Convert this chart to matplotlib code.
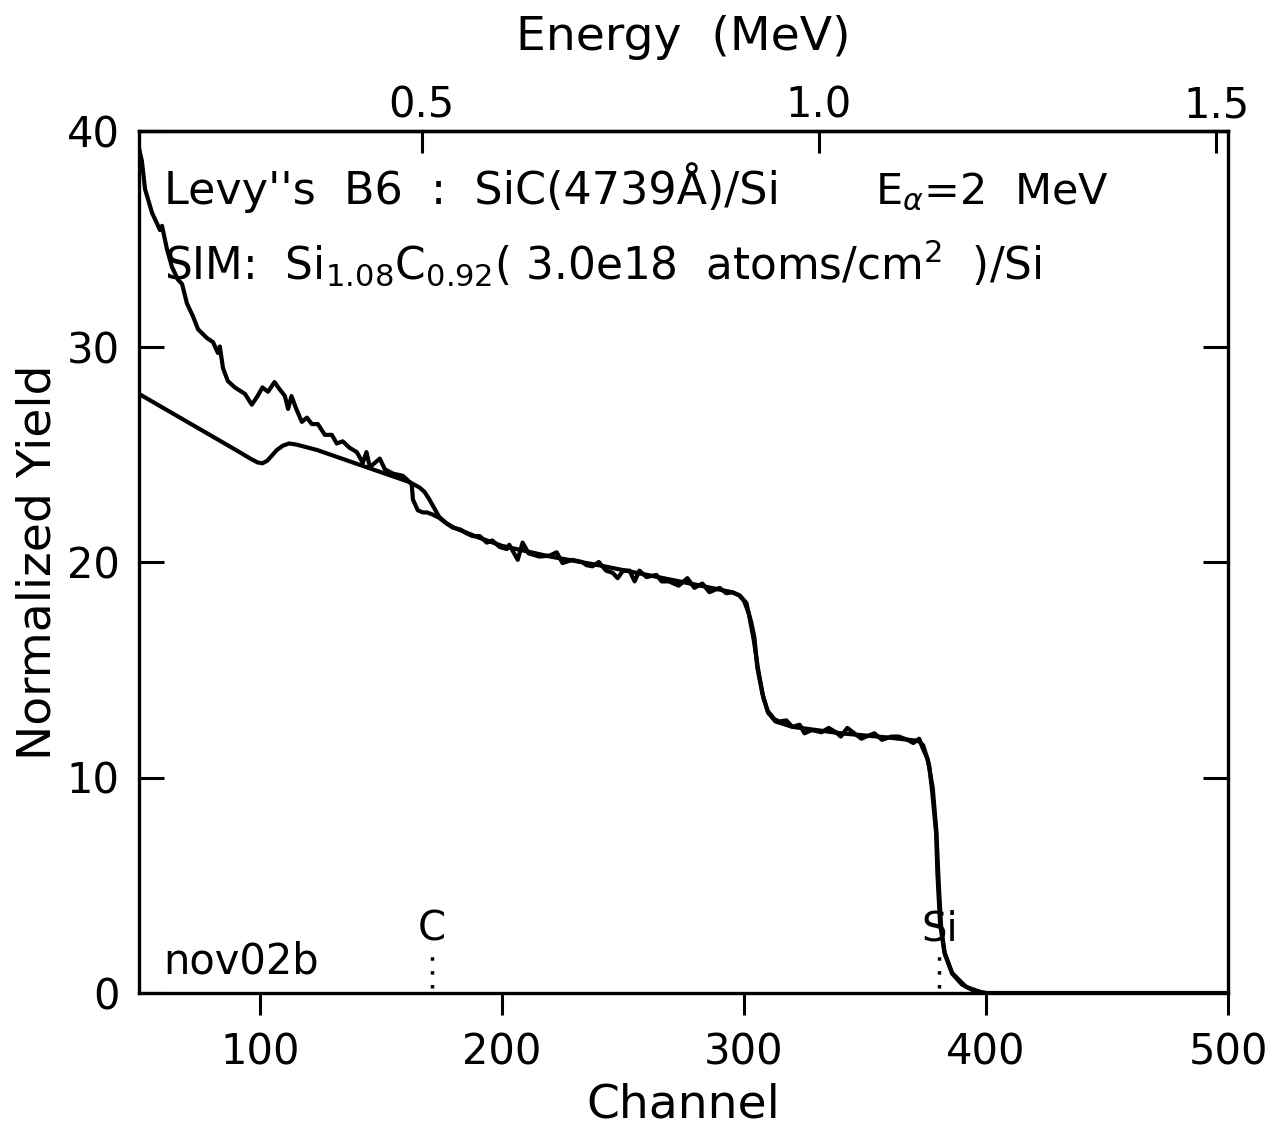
import matplotlib
matplotlib.use("Agg")
import matplotlib.pyplot as plt
import numpy as np

# ---------------- data ----------------
exp_ch = [50, 51.2, 52.5, 55.4, 58.7, 59.5, 61.6, 63.6, 66.1, 67.8, 69.8, 72.3, 74.4, 78, 80.6,
          82.6, 83.4, 84.7, 86.7, 89.6, 93.8, 96.6, 99, 101, 103.3, 106, 108.2, 110.3, 111.6,
          113, 115, 117.3, 119.4, 121.4, 123.9, 126.8, 129.7, 131.7, 134.2, 137, 140, 142.5,
          144, 145.4, 149.5, 151.6, 155, 159, 161, 162.7, 163.2, 165.2, 167.3, 169, 171.4, 174,
          177, 179.6, 183, 185, 187.9, 190.8, 193.7, 196, 199, 202, 203, 205, 206.5, 208.5, 211,
          215.5, 219.7, 222.6, 225, 229, 233, 235, 237.4, 240, 243, 245.7, 247.8, 250, 252.7,
          254.8, 256.8, 259.7, 263.8, 266, 269, 273, 276.6, 279.5, 282.8, 285.7, 289.9, 292.7,
          295.2, 298.2, 301, 302, 303, 304.3, 305.5, 307.6, 309.7, 312.6, 314.6, 317.5, 320,
          323, 325, 328, 332, 335, 338, 340, 342.7, 345.6, 348.5, 350.5, 353.9, 357, 361, 364,
          367.5, 370, 372.4, 373.7, 375.7, 376.6, 377.8, 379.4, 379.9, 381, 382.8, 386, 391.8,
          398.5, 400, 500]
exp_y = [39.2, 38.6, 37.3, 36.2, 35.4, 35.6, 34.5, 33.7, 33.1, 32.9, 32.0, 31.4, 30.8, 30.4, 30.2,
         29.7, 30.0, 29.0, 28.4, 28.1, 27.8, 27.3, 27.7, 28.1, 27.9, 28.35, 28.0, 27.7, 27.1,
         27.7, 27.1, 26.5, 26.7, 26.4, 26.4, 25.9, 25.9, 25.5, 25.6, 25.3, 25.1, 24.6,
         25.1, 24.4, 24.8, 24.3, 24.1, 24.0, 23.8, 23.6, 22.9, 22.4, 22.3, 22.3, 22.2, 22.05,
         21.8, 21.6, 21.5, 21.35, 21.2, 21.2, 20.9, 21.0, 20.7, 20.6, 20.8, 20.4, 20.1, 20.9, 20.4,
         20.25, 20.3, 20.45, 19.95, 20.1, 20.0, 19.85, 19.8, 20.0, 19.6, 19.5, 19.25, 19.6, 19.6,
         19.1, 19.6, 19.3, 19.4, 19.1, 19.1, 18.9, 19.25, 18.8, 19.0, 18.6, 18.8, 18.55,
         18.6, 18.45, 18.1, 17.6, 17.2, 16.5, 15.1, 13.9, 13.1, 12.7, 12.6, 12.65, 12.35,
         12.45, 12.05, 12.2, 12.1, 12.3, 12.1, 11.9, 12.3, 12.05, 11.8, 11.9, 12.05, 11.75, 11.9, 11.9,
         11.75, 11.6, 11.8, 11.4, 10.9, 10.5, 9.3, 7.4, 5.6, 3.25, 1.9, 0.93, 0.28,
         0.02, 0.0, 0.0]

sim_ch = [50, 60, 70, 80, 90, 96, 99, 101, 103, 105, 107, 109.5, 112, 115, 123.5, 144, 162,
          166, 168, 170, 172, 174, 177, 180, 190, 200, 220, 240, 260, 280, 295, 298, 300, 302,
          304, 306, 308, 310, 313, 320, 340, 360, 372, 374, 376, 378, 379.5, 380.5, 381.5, 383,
          386, 390, 395, 400]
sim_y = [27.8, 27.15, 26.5, 25.85, 25.2, 24.8, 24.62, 24.58, 24.7, 24.95, 25.2, 25.4, 25.5, 25.45,
         25.2, 24.4, 23.7, 23.45, 23.25, 22.9, 22.5, 22.1, 21.8, 21.6, 21.15, 20.75, 20.25, 19.85,
         19.4, 18.95, 18.6, 18.45, 18.2, 17.6, 16.4, 14.9, 13.7, 13.0, 12.6, 12.35, 12.05, 11.85,
         11.7, 11.5, 10.8, 9.5, 7.5, 5.0, 3.0, 1.8, 0.9, 0.4, 0.1, 0.0]

x_ticks = [100, 200, 300, 400, 500]
y_ticks = [0, 10, 20, 30, 40]
e_ticks = [0.5, 1.0, 1.5]
edge_labels = ["C", "Si"]
edge_ch = [171, 380.7]

E_SLOPE = 0.003045
E_OFF = -0.0079

def ch2e(c):
    return np.asarray(c) * E_SLOPE + E_OFF

def e2ch(e):
    return (np.asarray(e) - E_OFF) / E_SLOPE

# ---------------- figure ----------------
plt.rcParams['font.family'] = ['DejaVu Sans']
plt.rcParams['mathtext.fontset'] = 'dejavusans'

fig = plt.figure(figsize=(12.74, 11.31), dpi=100)
ax = fig.add_axes([139/1274, 1 - 993/1131, (1228-139)/1274, (993-131)/1131])

ax.plot(exp_ch, exp_y, color='black', lw=3.0, solid_joinstyle='round')
ax.plot(sim_ch, sim_y, color='black', lw=3.0, solid_joinstyle='round')

ax.set_xlim(50, 500)
ax.set_ylim(0, 40)

for s in ax.spines.values():
    s.set_linewidth(2.4)

ax.set_xticks(x_ticks)
ax.set_yticks(y_ticks)
ax.tick_params(axis='x', direction='out', length=16, width=2.2, labelsize=30, pad=12)
ax.tick_params(axis='y', direction='in', length=18, width=2.2, labelsize=30, pad=14,
               right=True)
ax.set_xlabel("Channel", fontsize=34, labelpad=6)
ax.set_ylabel("Normalized Yield", fontsize=34, labelpad=4)

sec = ax.secondary_xaxis('top', functions=(ch2e, e2ch))
sec.set_xticks(e_ticks)
sec.set_xticklabels(["0.5", "1.0", "1.5"])
sec.tick_params(axis='x', direction='in', length=16, width=2.2, labelsize=30, pad=3)
sec.set_xlabel("Energy  (MeV)", fontsize=34, labelpad=25)
sec.spines['top'].set_linewidth(2.4)

# annotations
ax.text(60.5, 36.6, "Levy''s  B6  :  SiC(4739Å)/Si", fontsize=32, ha='left', va='baseline')
ax.text(354, 36.6, r"E$_{\alpha}$=2  MeV", fontsize=31, ha='left', va='baseline')
ax.text(60.5, 33.1, r"SIM:  Si$_{1.08}$C$_{0.92}$( 3.0e18  atoms/cm$^{2}$  )/Si",
        fontsize=31.5, ha='left', va='baseline')
ax.text(60, 0.9, "nov02b", fontsize=30, ha='left', va='baseline')

for lab, c in zip(edge_labels, edge_ch):
    ax.plot([c, c], [0.25, 1.75], color='black', lw=2.5, ls=(0, (1, 3)))
    ax.text(c, 2.45, lab, fontsize=29, ha='center', va='baseline')

fig.savefig("out.png", dpi=100)
